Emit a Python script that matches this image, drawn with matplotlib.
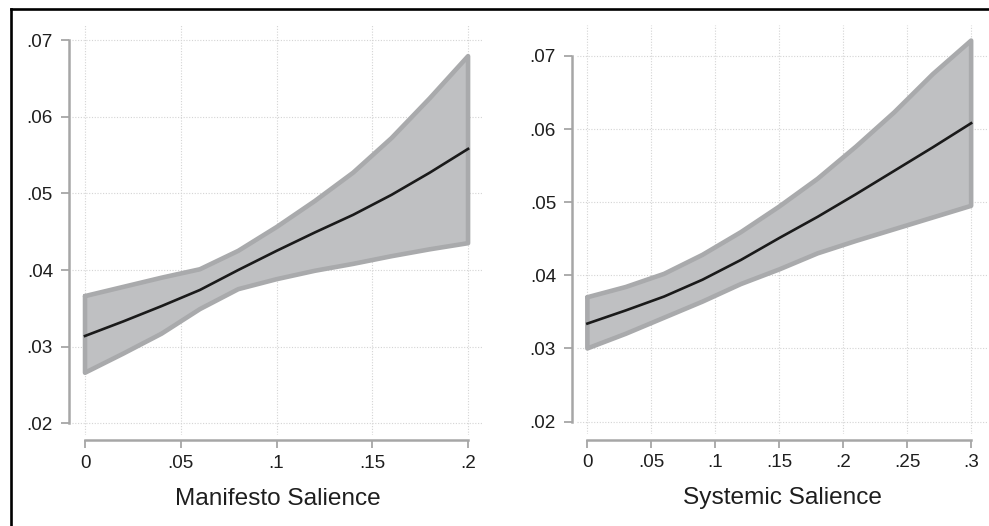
import matplotlib
matplotlib.use("Agg")
import matplotlib.pyplot as plt
from matplotlib.lines import Line2D

# ---- data ----
man_x = [0.00, 0.02, 0.04, 0.06, 0.08, 0.10, 0.12, 0.14, 0.16, 0.18, 0.20]
man_mean = [0.0314, 0.0333, 0.0353, 0.0374, 0.0400, 0.0425, 0.0449, 0.0472, 0.0498, 0.0527, 0.0558]
man_upper = [0.0366, 0.0378, 0.0390, 0.0401, 0.0425, 0.0456, 0.0490, 0.0527, 0.0572, 0.0624, 0.0679]
man_lower = [0.0266, 0.0291, 0.0317, 0.0349, 0.0375, 0.0388, 0.0399, 0.0408, 0.0418, 0.0427, 0.0435]

sys_x = [0.00, 0.03, 0.06, 0.09, 0.12, 0.15, 0.18, 0.21, 0.24, 0.27, 0.30]
sys_mean = [0.0334, 0.0352, 0.0371, 0.0394, 0.0421, 0.0451, 0.0480, 0.0511, 0.0543, 0.0575, 0.0608]
sys_upper = [0.0370, 0.0384, 0.0402, 0.0428, 0.0459, 0.0494, 0.0532, 0.0576, 0.0623, 0.0675, 0.0721]
sys_lower = [0.0300, 0.0320, 0.0342, 0.0364, 0.0388, 0.0408, 0.0430, 0.0447, 0.0463, 0.0479, 0.0495]

y_ticks = [0.02, 0.03, 0.04, 0.05, 0.06, 0.07]
y_labels = [".02", ".03", ".04", ".05", ".06", ".07"]
man_xticks = [0, 0.05, 0.10, 0.15, 0.20]
man_xlabels = ["0", ".05", ".1", ".15", ".2"]
sys_xticks = [0, 0.05, 0.10, 0.15, 0.20, 0.25, 0.30]
sys_xlabels = ["0", ".05", ".1", ".15", ".2", ".25", ".3"]
man_title = "Manifesto Salience"
sys_title = "Systemic Salience"

# ---- style ----
plt.rcParams['font.family'] = ['Liberation Sans', 'DejaVu Sans']
FILL = "#bfc0c2"
EDGE = "#a9aaac"
LINE = "#1a1a1a"
AXC = "#a6a6a6"
GRID = "#d4d4d4"
TXT = "#1e1e1e"

W, H = 989, 526
fig = plt.figure(figsize=(W / 100, H / 100), dpi=100)
fig.patch.set_facecolor("white")


def px_rect(x0, x1, y0, y1):
    return [x0 / W, 1 - y1 / H, (x1 - x0) / W, (y1 - y0) / H]


def panel(rect, xs, mean, lo, hi, xticks, xlabels, xlabel, xlim, ylim, yoff, xoff):
    ax = fig.add_axes(rect)
    ax.set_xlim(*xlim)
    ax.set_ylim(*ylim)
    ax.fill_between(xs, lo, hi, facecolor=FILL, edgecolor="none", zorder=2)
    poly_x = list(xs) + list(xs[::-1]) + [xs[0]]
    poly_y = list(hi) + list(lo[::-1]) + [hi[0]]
    ax.plot(poly_x, poly_y, color=EDGE, lw=3.3, solid_joinstyle="round",
            solid_capstyle="round", zorder=3)
    ax.plot(xs, mean, color=LINE, lw=1.9, solid_joinstyle="round", zorder=4)

    ax.set_xticks(xticks)
    ax.set_xticklabels(xlabels)
    ax.set_yticks(y_ticks)
    ax.set_yticklabels(y_labels)
    ax.grid(True, color=GRID, ls=(0, (1, 1.5)), lw=0.8, zorder=0)
    for s in ("top", "right"):
        ax.spines[s].set_visible(False)
    ax.spines["left"].set_position(("outward", yoff))
    ax.spines["bottom"].set_position(("outward", xoff))
    ax.spines["left"].set_bounds(y_ticks[0], y_ticks[-1])
    ax.spines["bottom"].set_bounds(xticks[0], xticks[-1])
    for s in ("left", "bottom"):
        ax.spines[s].set_color(AXC)
        ax.spines[s].set_linewidth(1.8)
    ax.tick_params(axis="both", colors=AXC, length=5.5, width=1.3,
                   labelsize=13.6, labelcolor=TXT)
    ax.tick_params(axis="y", pad=6)
    ax.tick_params(axis="x", pad=5)
    ax.set_xlabel(xlabel, fontsize=17.6, color=TXT, labelpad=11.5)
    ax.set_facecolor("none")
    return ax


panel(px_rect(72, 483, 25, 435), man_x, man_mean, man_lower, man_upper,
      man_xticks, man_xlabels, man_title, (-0.0068, 0.2078), (0.01848, 0.07196), 2.2, 3.6)
panel(px_rect(577, 987, 25, 434), sys_x, sys_mean, sys_lower, sys_upper,
      sys_xticks, sys_xlabels, sys_title, (-0.0081, 0.3124), (0.0183, 0.07423), 3.6, 4.0)

# outer frame (left and top edges visible)
fig.add_artist(Line2D([10.5 / W, 10.5 / W], [0, 1 - 9 / H], transform=fig.transFigure,
                      color="black", lw=1.9, solid_capstyle="projecting"))
fig.add_artist(Line2D([10.5 / W, 1], [1 - 9 / H, 1 - 9 / H], transform=fig.transFigure,
                      color="black", lw=1.9, solid_capstyle="projecting"))

fig.savefig("out.png", dpi=100, facecolor="white")
